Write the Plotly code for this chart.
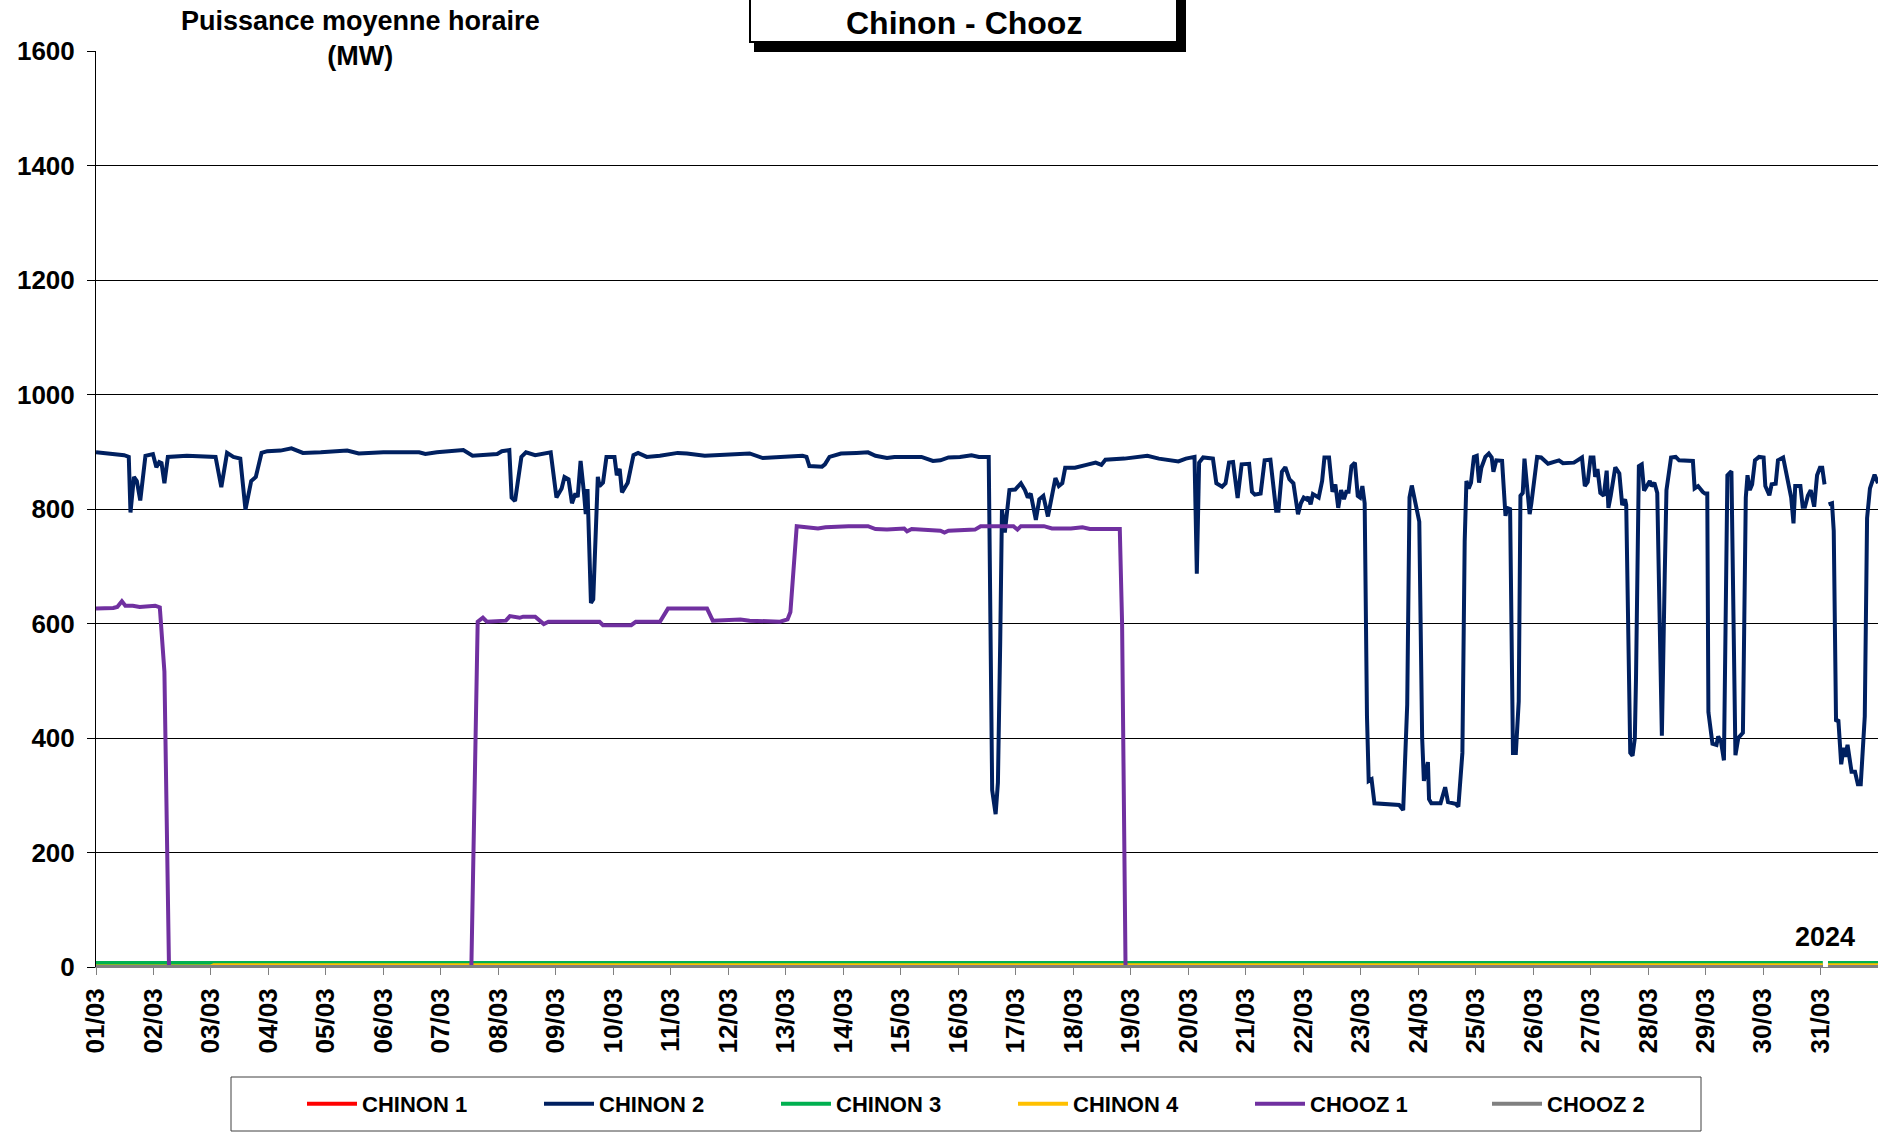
import pandas as pd
import plotly.graph_objects as go

# ---------------- data (day offset from 01/03/2024 00:00, MW) ----------------
START = pd.Timestamp("2024-03-01")

CHINON1 = [(0, 0), (30.04, 0), (30.083, None), (30.13, 0), (31, 0)]
CHINON3 = [(0, 7), (30.04, 7), (30.083, None), (30.13, 7), (31, 7)]
CHINON4 = [(0, 1), (2.0, 1), (2.05, 3), (30.04, 3), (30.083, None), (30.13, 3), (31, 3)]
CHOOZ2 = [(0, 0), (30.04, 0), (30.083, None), (30.13, 0), (31, 0)]

CHINON2 = [
    (0.00, 899), (0.49, 894), (0.57, 891), (0.60, 794), (0.66, 856), (0.71, 849), (0.77, 815),
    (0.86, 893), (0.99, 896), (1.05, 873), (1.10, 882), (1.14, 880), (1.19, 845), (1.25, 891),
    (1.58, 893), (2.08, 891), (2.18, 838), (2.28, 898), (2.39, 891), (2.51, 888), (2.60, 799),
    (2.70, 849), (2.78, 856), (2.88, 898), (2.98, 901), (3.21, 902), (3.40, 906), (3.60, 898),
    (3.91, 899), (4.37, 902), (4.57, 897), (5.00, 899), (5.62, 899), (5.73, 896), (5.93, 899),
    (6.39, 903), (6.55, 893), (6.98, 896), (7.06, 901), (7.19, 903), (7.23, 820), (7.29, 814),
    (7.40, 891), (7.48, 899), (7.64, 894), (7.91, 899), (8.01, 820), (8.07, 833), (8.10, 836),
    (8.15, 856), (8.22, 852), (8.28, 810), (8.34, 827), (8.38, 821), (8.43, 884), (8.49, 827),
    (8.52, 791), (8.55, 835), (8.61, 636), (8.65, 642), (8.73, 856), (8.76, 840), (8.82, 846),
    (8.88, 891), (9.02, 891), (9.06, 859), (9.11, 870), (9.15, 829), (9.21, 840), (9.25, 846),
    (9.35, 894), (9.43, 898), (9.58, 891), (9.81, 893), (10.12, 898), (10.28, 897), (10.59, 893),
    (10.90, 895), (11.37, 897), (11.60, 889), (11.90, 891),
    (12.29, 893), (12.36, 891), (12.41, 875), (12.63, 874), (12.68, 878), (12.76, 891), (12.96, 897),
    (13.23, 898), (13.43, 899), (13.56, 893), (13.76, 889), (13.89, 891), (14.36, 891), (14.56, 884),
    (14.69, 885), (14.83, 890), (15.03, 891), (15.23, 894), (15.36, 891), (15.53, 891), (15.55, 697),
    (15.59, 309), (15.65, 267), (15.69, 322), (15.73, 568), (15.76, 799), (15.81, 759), (15.89, 833),
    (15.99, 834), (16.09, 845), (16.16, 833), (16.21, 820), (16.26, 827), (16.35, 781), (16.41, 817),
    (16.48, 823), (16.56, 787), (16.63, 827), (16.69, 854), (16.75, 840), (16.81, 845), (16.86, 872),
    (17.03, 872), (17.23, 877), (17.39, 881), (17.49, 877), (17.56, 886), (17.89, 888), (18.09, 890),
    (18.29, 893), (18.49, 888), (18.83, 883), (18.96, 888), (19.11, 891), (19.15, 687), (19.19, 881),
    (19.26, 890), (19.43, 888), (19.49, 845), (19.59, 839), (19.65, 845), (19.71, 881), (19.78, 882),
    (19.86, 819), (19.93, 878), (20.06, 879), (20.11, 830), (20.16, 825), (20.26, 827), (20.33, 885),
    (20.43, 886), (20.53, 797), (20.57, 797), (20.63, 865), (20.69, 873), (20.76, 852), (20.83, 845),
    (20.91, 791), (20.96, 810),
    (21.01, 820), (21.06, 817), (21.09, 821), (21.13, 808), (21.17, 826), (21.27, 820), (21.33, 849),
    (21.37, 890), (21.45, 890), (21.51, 830), (21.56, 843), (21.61, 802), (21.66, 833), (21.71, 817),
    (21.75, 830), (21.79, 830), (21.84, 875), (21.90, 881), (21.95, 823), (21.99, 820), (22.03, 840),
    (22.07, 810), (22.11, 438), (22.14, 325), (22.19, 328), (22.24, 286), (22.49, 285), (22.67, 283),
    (22.74, 274), (22.81, 458), (22.85, 820), (22.89, 841), (23.02, 778), (23.07, 400), (23.10, 325),
    (23.17, 358), (23.19, 293), (23.23, 286), (23.39, 286), (23.47, 314), (23.52, 288), (23.65, 285),
    (23.70, 280), (23.77, 374), (23.81, 743), (23.84, 849), (23.88, 836), (23.92, 846), (23.97, 891),
    (24.02, 893), (24.06, 846), (24.10, 872), (24.17, 891), (24.23, 897), (24.28, 890), (24.31, 865),
    (24.36, 885), (24.46, 884), (24.52, 788), (24.55, 802), (24.60, 800), (24.65, 374), (24.70, 374),
    (24.75, 464), (24.78, 823), (24.82, 828), (24.85, 888), (24.94, 791), (24.97, 810), (25.07, 891),
    (25.14, 890), (25.26, 879), (25.45, 885), (25.52, 880), (25.71, 881), (25.85, 890), (25.90, 840),
    (25.95, 847), (26.00, 890), (26.05, 890), (26.08, 856), (26.12, 870), (26.17, 828), (26.23, 823),
    (26.28, 867), (26.31, 802), (26.35, 823), (26.43, 873), (26.50, 862), (26.55, 807), (26.60, 817),
    (26.62, 807), (26.69, 374), (26.73, 369), (26.77, 400), (26.79, 503), (26.84, 875), (26.89, 878),
    (26.93, 832), (26.98, 840), (27.03, 849), (27.06, 840), (27.11, 846), (27.16, 828), (27.20, 568),
    (27.24, 404), (27.29, 684), (27.32, 833), (27.40, 890), (27.48, 891), (27.54, 885), (27.74, 884),
    (27.78, 884), (27.81, 836), (27.87, 840), (27.95, 830), (27.99, 827), (28.03, 827), (28.05, 445),
    (28.12, 390), (28.19, 388), (28.22, 403), (28.27, 393), (28.32, 361), (28.35, 568), (28.38, 859),
    (28.45, 866), (28.48, 632), (28.52, 370), (28.57, 400), (28.65, 409), (28.70, 820), (28.73, 859),
    (28.77, 833), (28.81, 843), (28.86, 885), (28.93, 891), (29.01, 890), (29.04, 840), (29.11, 824),
    (29.15, 843), (29.22, 844), (29.26, 885), (29.35, 890), (29.41, 859), (29.46, 827), (29.49, 820),
    (29.53, 775), (29.56, 840), (29.65, 840), (29.69, 804), (29.73, 804), (29.78, 823), (29.83, 833),
    (29.89, 804), (29.94, 859), (29.99, 872), (30.03, 872), (30.07, 843), (30.083, None), (30.14, 808),
    (30.20, 810), (30.23, 762), (30.27, 429), (30.31, 432), (30.36, 354), (30.40, 383), (30.43, 367),
    (30.47, 388), (30.54, 341), (30.60, 341), (30.65, 319), (30.70, 319), (30.77, 438), (30.81, 784),
    (30.86, 836), (30.94, 860), (31.00, 845),
]

CHOOZ1 = [
    (0.00, 626), (0.30, 627), (0.37, 629), (0.45, 639), (0.51, 631), (0.64, 631), (0.76, 629),
    (0.92, 631), (1.03, 631), (1.11, 628), (1.19, 516), (1.27, 0), (6.53, 0), (6.64, 603),
    (6.73, 610), (6.80, 603), (7.13, 605), (7.20, 613), (7.37, 610), (7.43, 612), (7.64, 612),
    (7.79, 599), (7.87, 603), (8.76, 603), (8.82, 597), (9.31, 597), (9.39, 603), (9.81, 603),
    (9.95, 626), (10.63, 626), (10.73, 605), (11.21, 607), (11.37, 605), (11.90, 603), (12.03, 607),
    (12.08, 620), (12.13, 697), (12.19, 770), (12.56, 766), (12.69, 768), (13.09, 770), (13.43, 770),
    (13.56, 765), (13.76, 764), (14.06, 766), (14.11, 761), (14.19, 765), (14.69, 762), (14.76, 759),
    (14.83, 762), (15.29, 764), (15.39, 770), (15.96, 770), (16.03, 764), (16.09, 770), (16.49, 770),
    (16.63, 766), (16.96, 766), (17.16, 768), (17.29, 765), (17.81, 765), (17.85, 600), (17.91, 0),
    (30.04, 0), (30.083, None), (30.13, 0), (31, 0),
]

SERIES_NAMES = ["CHINON 1", "CHINON 2", "CHINON 3", "CHINON 4", "CHOOZ 1", "CHOOZ 2"]
SERIES_DATA = [CHINON1, CHINON2, CHINON3, CHINON4, CHOOZ1, CHOOZ2]
SERIES_COLORS = ["#FF0000", "#002060", "#00B050", "#FFC000", "#7030A0", "#808080"]

DAY_LABELS = ["%02d/03" % d for d in range(1, 32)]
Y_TICKS = [0, 200, 400, 600, 800, 1000, 1200, 1400, 1600]

TITLE = "Chinon - Chooz"
Y_TITLE = "Puissance moyenne horaire<br>(MW)"
YEAR = "2024"

# ---------------- layout helpers (pixel -> paper) ----------------
W, H = 1880, 1132
PL, PR, PT, PB = 96, 1878, 51, 967


def px(x):
    return (x - PL) / (PR - PL)


def py(y):
    return (PB - y) / (PB - PT)


FONT = "Arial, Liberation Sans, sans-serif"

fig = go.Figure()
for name, data, color in zip(SERIES_NAMES, SERIES_DATA, SERIES_COLORS):
    xs = [START + pd.Timedelta(days=d) for d, _ in data]
    ys = [v for _, v in data]
    fig.add_trace(go.Scatter(
        x=xs, y=ys, name=name, mode="lines",
        line=dict(color=color, width=4),
        connectgaps=False,
    ))

tickvals = [START + pd.Timedelta(days=i) for i in range(len(DAY_LABELS))]

fig.update_layout(
    width=W, height=H, autosize=False,
    margin=dict(l=PL, r=W - PR, t=PT, b=H - PB),
    paper_bgcolor="white", plot_bgcolor="white",
    font=dict(family=FONT, color="black"),
    showlegend=True,
    legend=dict(
        orientation="h", x=px(302), xanchor="left", y=py(1104), yanchor="middle",
        font=dict(size=22, family=FONT, weight="bold", color="black"),
        entrywidth=172, entrywidthmode="pixels",
        bgcolor="rgba(0,0,0,0)", borderwidth=0, itemwidth=50,
    ),
    xaxis=dict(
        type="date",
        range=[START, START + pd.Timedelta(days=31)],
        tickvals=tickvals, ticktext=DAY_LABELS, tickangle=-90,
        tickfont=dict(size=26, family=FONT, weight="bold", color="black"),
        ticks="outside", ticklen=7, tickcolor="#808080", tickwidth=1,
        ticklabelstandoff=3,
        showline=True, linecolor="#808080", linewidth=1,
        showgrid=False, zeroline=False,
    ),
    yaxis=dict(
        range=[0, 1600], tickvals=Y_TICKS,
        tickfont=dict(size=26, family=FONT, weight="bold", color="black"),
        ticks="outside", ticklen=8, tickcolor="black", tickwidth=1,
        ticklabelstandoff=7,
        showline=True, linecolor="black", linewidth=1,
        showgrid=True, gridcolor="black", gridwidth=1,
        zeroline=False,
    ),
)

shapes = [
    # legend frame
    dict(type="rect", xref="paper", yref="paper",
         x0=px(231), x1=px(1701), y0=py(1131), y1=py(1077),
         line=dict(color="#404040", width=1), fillcolor="rgba(0,0,0,0)", layer="above"),
    # title box shadow
    dict(type="rect", xref="paper", yref="paper",
         x0=px(754), x1=px(1186), y0=py(52), y1=py(-10),
         line=dict(width=0), fillcolor="black", layer="above"),
    # title box
    dict(type="rect", xref="paper", yref="paper",
         x0=px(750), x1=px(1177), y0=py(42), y1=py(-10),
         line=dict(color="black", width=2), fillcolor="white", layer="above"),
]
fig.update_layout(shapes=shapes)

fig.add_annotation(
    text=TITLE, xref="paper", yref="paper", x=px(964), y=py(23),
    xanchor="center", yanchor="middle", showarrow=False,
    font=dict(size=32, family=FONT, weight="bold", color="black"),
)
fig.add_annotation(
    text=Y_TITLE, xref="paper", yref="paper", x=px(360), y=py(38),
    xanchor="center", yanchor="middle", showarrow=False,
    bgcolor="white", borderpad=4,
    font=dict(size=27, family=FONT, weight="bold", color="black"),
)
fig.add_annotation(
    text=YEAR, xref="paper", yref="paper", x=px(1825), y=py(937),
    xanchor="center", yanchor="middle", showarrow=False,
    font=dict(size=27, family=FONT, weight="bold", color="black"),
)

fig.write_html("out.html", config={"displayModeBar": False},
               post_script="document.body.style.margin='0px';")
